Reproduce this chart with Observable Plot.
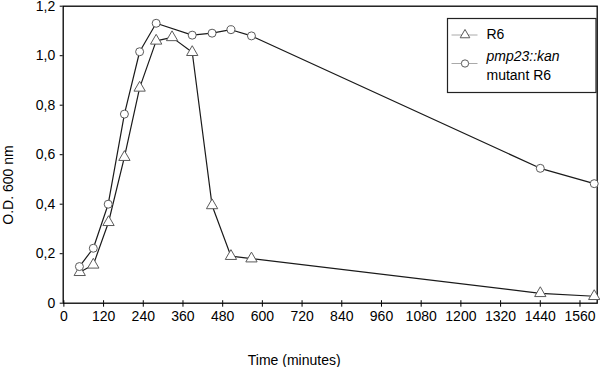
<!DOCTYPE html>
<html>
<head>
<meta charset="utf-8">
<script src="https://cdn.jsdelivr.net/npm/d3@7"></script>
<script src="https://cdn.jsdelivr.net/npm/@observablehq/plot@0.6"></script>
<style>
  html, body { margin: 0; padding: 0; background: #fff; }
  #chart { position: relative; width: 600px; height: 367px; }
  svg { font-family: "Liberation Sans", Arial, sans-serif; }
</style>
</head>
<body>
<div id="chart"></div>
<script>
// Data
const timeR6 = [48, 89, 135, 183, 229, 279, 327, 388, 448, 505, 567, 1440, 1603];
const odR6   = [0.125, 0.155, 0.327, 0.59, 0.87, 1.06, 1.074, 1.014, 0.395, 0.19, 0.18, 0.04, 0.028];
const timeMut = [47, 89, 134, 183, 229, 279, 388, 448, 505, 567, 1440, 1603];
const odMut   = [0.148, 0.222, 0.40, 0.764, 1.016, 1.131, 1.083, 1.091, 1.105, 1.08, 0.545, 0.483];
const xTicks = d3.range(0, 1561, 120);
const yTicks = [0, 0.2, 0.4, 0.6, 0.8, 1.0, 1.2];
const seriesNames = ["R6", "pmp23::kan", "mutant R6"];
const xLabel = "Time (minutes)";
const yLabel = "O.D. 600 nm";

const r6 = timeR6.map((t, i) => ({t, od: odR6[i]}));
const mut = timeMut.map((t, i) => ({t, od: odMut[i]}));

const lineColor = "#1a1a1a";
const markColor = "#5a5a5a";

const plot = Plot.plot({
  width: 600,
  height: 367,
  marginLeft: 62.7,
  marginRight: 3.3,
  marginTop: 5.7,
  marginBottom: 64.3,
  style: {fontFamily: "Liberation Sans, Arial, sans-serif", fontSize: "14px", color: "#000", background: "#fff"},
  x: {domain: [-2, 1612]},
  y: {domain: [0, 1.2]},
  marks: [
    Plot.frame({stroke: "#000", strokeWidth: 1.3}),
    Plot.axisY({ticks: yTicks, tickSize: 3, tickPadding: 5, label: null,
      tickFormat: d => d === 0 ? "0" : d.toFixed(1).replace(".", ","), fontSize: 14}),
    Plot.axisX({ticks: xTicks, tickSize: 4, tickPadding: 4, label: null, fontSize: 14,
      tickFormat: d => String(d)}),
    Plot.ruleX(xTicks, {x: d => d, y1: 0, y2: 0.01, stroke: "#000"}),
    Plot.line(r6, {x: "t", y: "od", stroke: lineColor, strokeWidth: 1.2}),
    Plot.line(mut, {x: "t", y: "od", stroke: lineColor, strokeWidth: 1.2}),
    Plot.dot(r6, {x: "t", y: "od", symbol: "triangle", r: 4.2, fill: "#fff", stroke: markColor, strokeWidth: 1}),
    Plot.dot(mut, {x: "t", y: "od", symbol: "circle", r: 4, fill: "#fff", stroke: markColor, strokeWidth: 1}),
    Plot.text([xLabel], {frameAnchor: "bottom", dx: -36, dy: 57, lineAnchor: "middle", fontSize: 14, fill: "#000"})
  ]
});
document.getElementById("chart").appendChild(plot);

const svg = d3.select(plot);
// Y axis title (placed lower than frame centre, as in the reference)
svg.append("text")
  .attr("transform", "translate(8,185) rotate(-90)")
  .attr("text-anchor", "middle").attr("dy", "0.35em")
  .attr("font-size", 14).attr("fill", "#000")
  .attr("font-family", "Liberation Sans, Arial, sans-serif")
  .text(yLabel);

// Legend
const lg = svg.append("g").attr("transform", "translate(447.5,18.5)")
  .attr("text-anchor", "start").attr("font-family", "Liberation Sans, Arial, sans-serif");
lg.append("rect").attr("width", 148.5).attr("height", 74)
  .attr("fill", "#fff").attr("stroke", "#222").attr("stroke-width", 1.2);
const rows = [
  {y: 16.5, sym: d3.symbolTriangle, size: 40},
  {y: 45, sym: d3.symbolCircle, size: 42}
];
rows.forEach(r => {
  lg.append("line").attr("x1", 4).attr("x2", 30).attr("y1", r.y).attr("y2", r.y)
    .attr("stroke", "#aaa").attr("stroke-width", 1);
  lg.append("path").attr("d", d3.symbol(r.sym, r.size)()).attr("transform", `translate(17.5,${r.y})`)
    .attr("fill", "#fff").attr("stroke", markColor);
});
lg.append("text").attr("x", 39).attr("y", 15.5).attr("dy", "0.35em").attr("font-size", 14).text(seriesNames[0]);
lg.append("text").attr("x", 39).attr("y", 38).attr("dy", "0.35em").attr("font-size", 14)
  .attr("font-style", "italic").text(seriesNames[1]);
lg.append("text").attr("x", 39).attr("y", 56.5).attr("dy", "0.35em").attr("font-size", 14).text(seriesNames[2]);
</script>
</body>
</html>
